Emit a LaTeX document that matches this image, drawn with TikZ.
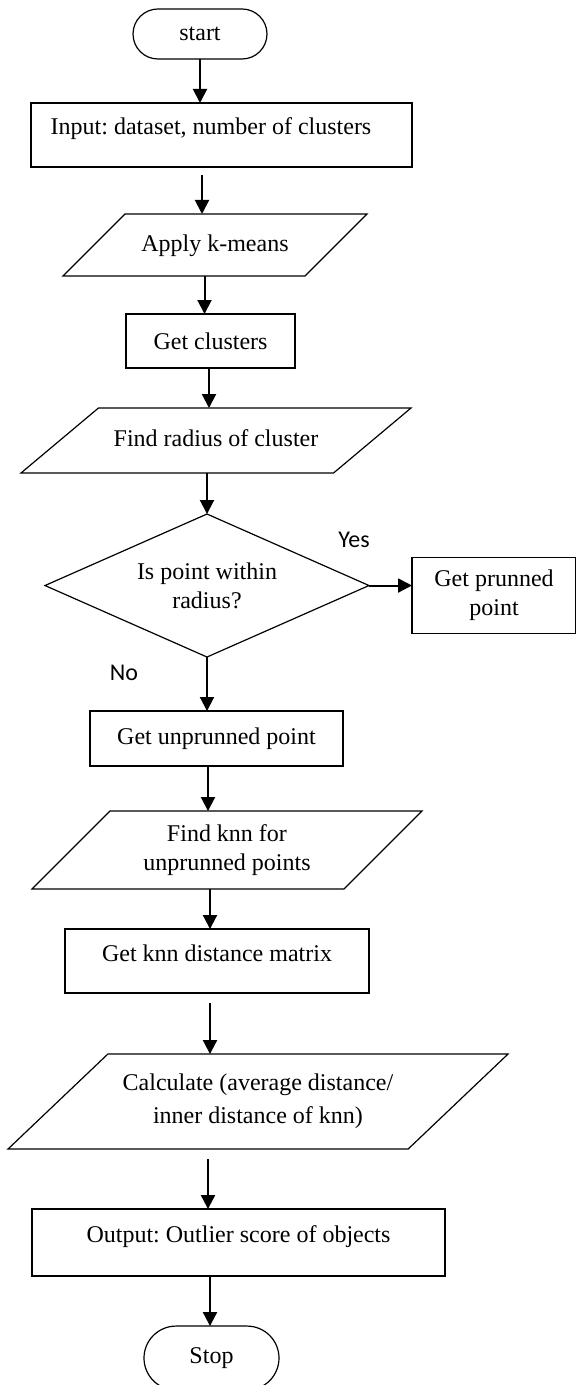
\documentclass[tikz,border=0pt]{standalone}
\usepackage{fontspec}
\setmainfont{Liberation Serif}
\newfontfamily\lblfont{Carlito}
\usetikzlibrary{arrows.meta,positioning,shapes.geometric,shapes.misc}
\frenchspacing

\begin{document}
\begin{tikzpicture}[
    every node/.style={font=\fontsize{12}{14.5}\selectfont, outer sep=0pt},
    proc/.style={rectangle, draw, line width=0.6pt, inner sep=0pt, align=center},
    uptext/.style={text height=8.5pt, text depth=8.5pt},
    io/.style={trapezium, trapezium left angle=45, trapezium right angle=135, trapezium stretches body, draw, line width=0.6pt, inner xsep=0pt, align=center},
    oneline/.style={text height=8.5pt, text depth=2.5pt},
    term/.style={rounded rectangle, draw, line width=0.6pt, inner sep=0pt},
    test/.style={diamond, aspect=2.27, draw, line width=0.6pt, inner sep=0pt, align=center},
    lbl/.style={font=\lblfont\fontsize{12}{14}\selectfont},
    arr/.style={line width=1pt, -{Triangle[length=7pt,width=7pt]}}
]
\useasboundingbox (0pt,0pt) rectangle (288pt,-692.5pt);

% Main flow
\node[term, minimum width=67pt, minimum height=25pt] (start) at (100pt,-17pt) {start};
\node[proc, uptext, minimum width=190.5pt, minimum height=32pt, below=22pt of start, xshift=10.75pt] (input) {Input: dataset, number of clusters\hspace{10.5pt}};
\node[io, oneline, inner ysep=10pt, minimum width=152pt, minimum height=31pt, below=23.5pt of input, xshift=-3.25pt] (kmeans) {Apply k-means};
\node[proc, minimum width=84.5pt, minimum height=27pt, below=19pt of kmeans, xshift=-2.25pt] (clusters) {Get clusters};
\node[io, oneline, inner ysep=10.75pt, trapezium left angle=40, trapezium right angle=140, minimum width=195pt, minimum height=32.5pt, below=20pt of clusters, xshift=2.75pt] (radius) {Find radius of cluster};
\node[test, minimum width=162pt, minimum height=71.5pt, below=20.5pt of radius, xshift=-4.5pt] (within) {Is point within\\radius?};
\node[proc, minimum width=82pt, minimum height=38pt, right=21.5pt of within, yshift=-5pt] (pruned) {Get prunned\\point};
\node[proc, minimum width=126.5pt, minimum height=27.5pt, below=27pt of within, xshift=4.75pt] (unpruned) {Get unprunned point};
\node[io, inner ysep=6.75pt, minimum width=195pt, minimum height=39pt, below=22.5pt of unpruned, xshift=5.25pt] (knn) {Find knn for\\unprunned points};
\node[proc, uptext, minimum width=152pt, minimum height=32pt, below=20pt of knn, xshift=-5pt] (knndist) {Get knn distance matrix};
\node[io, inner ysep=10pt, trapezium left angle=43.5, trapezium right angle=136.5, minimum width=250pt, minimum height=47.5pt, below=30.5pt of knndist, xshift=20.5pt] (calc) {Calculate (average distance/\\[2pt]inner distance of knn)};
\node[proc, uptext, minimum width=206.5pt, minimum height=33.5pt, below=30pt of calc, xshift=-9.75pt] (output) {Output: Outlier score of objects};
\node[term, minimum width=67.5pt, minimum height=32pt, below=25pt of output, xshift=-13.5pt] (stop) {Stop};

% Branch labels
\node[lbl] (yes) at (177pt,-270pt) {Yes};
\node[lbl] (no) at (62pt,-336.5pt) {No};

% Connectors
\draw[arr] (start.south) -- (start.south |- input.north);
\draw[arr] (101pt,0 |- input.south) ++(0,-4pt) -- (101pt,0 |- kmeans.north);
\draw[arr] (102.25pt,0 |- kmeans.south) -- (102.25pt,0 |- clusters.north);
\draw[arr] (104.5pt,0 |- clusters.south) -- (104.5pt,0 |- radius.north);
\draw[arr] (radius.south -| within.north) -- (within.north);
\draw[arr] (within.east) -- (within.east -| pruned.west);
\draw[arr] (within.south) -- (within.south |- unpruned.north);
\draw[arr] (104pt,0 |- unpruned.south) -- (104pt,0 |- knn.north);
\draw[arr] (105pt,0 |- knn.south) -- (105pt,0 |- knndist.north);
\draw[arr] (105pt,0 |- knndist.south) ++(0,-5pt) -- (105pt,0 |- calc.north);
\draw[arr] (104pt,0 |- calc.south) ++(0,-5pt) -- (104pt,0 |- output.north);
\draw[arr] (105pt,0 |- output.south) -- (105pt,0 |- stop.north);

\end{tikzpicture}
\end{document}
